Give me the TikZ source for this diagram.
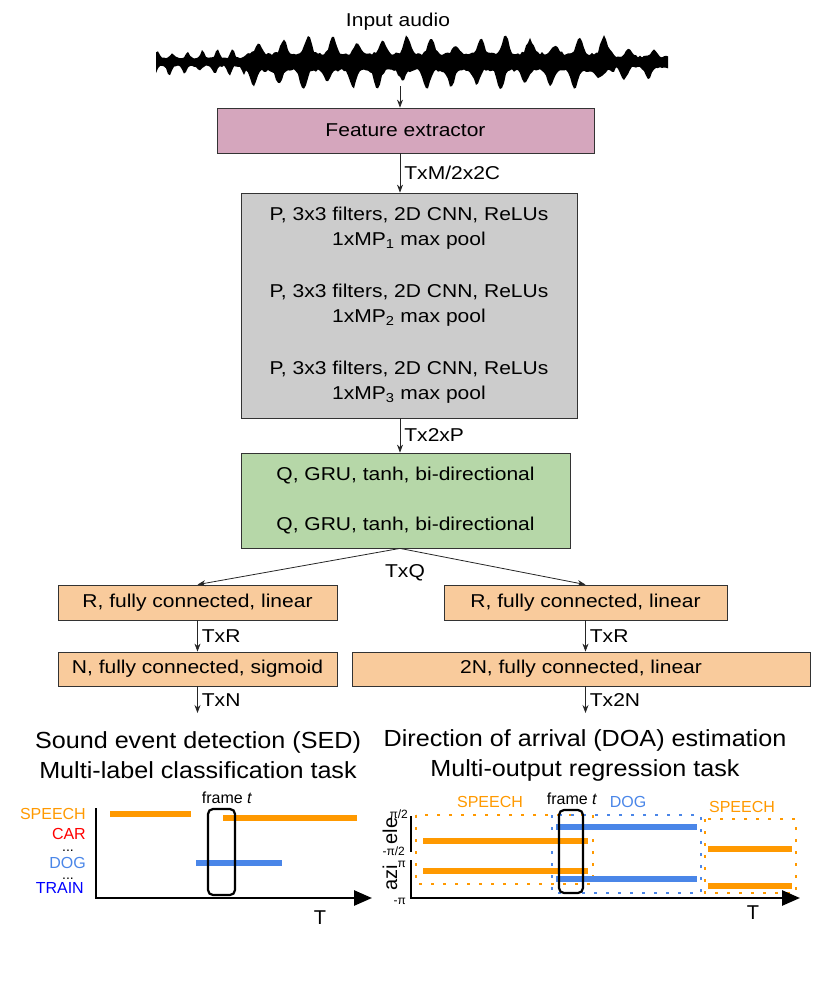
\documentclass[tikz,border=0pt]{standalone}
\usepackage{fontspec}
\setmainfont[FakeStretch=1.13]{Liberation Sans}
\newfontfamily\titlefont[FakeStretch=1.08]{Liberation Sans}
\newfontfamily\plotfont{Liberation Sans}
\usetikzlibrary{arrows.meta, positioning, calc}
\definecolor{FeatPink}{HTML}{D5A6BD}
\definecolor{CnnGray}{HTML}{CCCCCC}
\definecolor{GruGreen}{HTML}{B6D7A8}
\definecolor{FcPeach}{HTML}{F9CB9C}
\definecolor{EvOrange}{HTML}{FF9900}
\definecolor{EvBlue}{HTML}{4A86E8}
\definecolor{EvRed}{HTML}{FF0000}
\definecolor{EvDeepBlue}{HTML}{0000FF}
\tikzset{
  % Box styles
  layerbox/.style={rectangle, draw=black!80, line width=0.8pt, inner sep=0pt, align=center, font=\fontsize{18.6}{25}\selectfont},
  featbox/.style={layerbox, fill=FeatPink},
  cnnbox/.style={layerbox, fill=CnnGray},
  grubox/.style={layerbox, fill=GruGreen},
  fcbox/.style={layerbox, fill=FcPeach},
  % Arrow styles
  arrow/.style={->, >={Stealth[length=8pt,width=6pt]}, line width=0.8pt, black!85},
  axisarrow/.style={-{Triangle[length=18pt,width=15pt]}, line width=2.6pt, line join=miter},
  % Text styles
  arrowlabel/.style={right, inner sep=4pt, font=\fontsize{18.6}{22}\selectfont, black},
  titletext/.style={align=center, inner sep=0pt, font=\titlefont\fontsize{23.3}{30}\selectfont},
  plottext/.style={inner sep=0pt, font=\plotfont\fontsize{16}{18}\selectfont},
  ticktext/.style={inner sep=0pt, anchor=east, font=\plotfont\fontsize{12}{14}\selectfont},
  axistext/.style={inner sep=0pt, font=\plotfont\fontsize{20}{22}\selectfont},
  % Plot styles
  eventbar/.style={line width=6pt},
  framebox/.style={line width=2.2pt, rounded corners=5pt},
  dotbox/.style={line width=2.8pt, dash pattern=on 2.8pt off 9.2pt},
  declare function={
    wenv(\x)=(\x<245)*0.5+(\x>=245)*(\x<615)*1+(\x>=615)*0.65;
    wfreq(\x)=(\x<245)*12+(\x>=245)*7.3;
    wtop(\x)=wenv(\x)*(7+18*abs(sin(wfreq(\x)*\x))^6*(0.4+0.6*abs(sin(1.9*\x+30)))+3*rnd);
    wbot(\x)=wenv(\x)*(7+20*abs(sin(wfreq(\x)*\x+35))^6*(0.4+0.6*abs(sin(2.7*\x)))+3*rnd);
  }
}
\begin{document}
\begin{tikzpicture}[x=1pt, y=-1pt]
  \useasboundingbox (0,0) rectangle (830,988);
  \pgfmathsetseed{11}

  % Input audio
  \node[font=\fontsize{18.6}{23}\selectfont] (inlabel) at (398,22) {Input audio};
  \fill[black] plot[domain=156:668, samples=257] (\x, {62-wtop(\x)})
    -- plot[domain=668:156, samples=257] (\x, {62+wbot(\x)}) -- cycle;
  \coordinate (wave) at (400,86);

  % Network
  \node[featbox, minimum width=377, minimum height=45] (fe) at (405.5,130.5) {Feature extractor};
  \node[cnnbox, minimum width=336, minimum height=225] (cnn) at (409,305.5) {
    P, 3x3 filters, 2D CNN, ReLUs\\1xMP\textsubscript{1} max pool\\[27pt]
    P, 3x3 filters, 2D CNN, ReLUs\\1xMP\textsubscript{2} max pool\\[27pt]
    P, 3x3 filters, 2D CNN, ReLUs\\1xMP\textsubscript{3} max pool
  };
  \node[grubox, minimum width=329, minimum height=95] (gru) at (405.5,500.5) {
    Q, GRU, tanh, bi-directional\\[25pt]
    Q, GRU, tanh, bi-directional
  };
  \node[fcbox, minimum width=279, minimum height=35] (sedfc1) at (197.5,602.5) {R, fully connected, linear};
  \node[fcbox, minimum width=283, minimum height=35] (doafc1) at (585.5,602.5) {R, fully connected, linear};
  \node[fcbox, minimum width=279, minimum height=34] (sedfc2) at (197.5,669) {N, fully connected, sigmoid};
  \node[fcbox, minimum width=458, minimum height=34] (doafc2) at (581,669) {2N, fully connected, linear};

  \draw[arrow] (wave) -- (fe.north -| wave);
  \draw[arrow] (fe.south -| wave) -- node[arrowlabel] (lblfe) {TxM/2x2C} (cnn.north -| wave);
  \draw[arrow] (cnn.south -| wave) -- node[arrowlabel] (lblcnn) {Tx2xP} (gru.north -| wave);
  \coordinate (split) at (gru.south -| wave);
  \draw[arrow] (split) -- (sedfc1.north);
  \draw[arrow] (split) -- (doafc1.north);
  \node[arrowlabel, anchor=center] (lblgru) at (405,573) {TxQ};
  \draw[arrow] (sedfc1.south) -- node[arrowlabel] (lblsed1) {TxR} (sedfc2.north);
  \draw[arrow] (doafc1.south) -- node[arrowlabel] (lbldoa1) {TxR} (doafc1.south |- doafc2.north);
  \coordinate (sedout) at (197.5,713);
  \coordinate (doaout) at (585.5,713);
  \draw[arrow] (sedfc2.south) -- node[arrowlabel] (lblsed2) {TxN} (sedout);
  \draw[arrow] (doafc2.south -| doaout) -- node[arrowlabel] (lbldoa2) {Tx2N} (doaout);

  % Task titles
  \node[titletext] (sedtitle) at (198,755) {Sound event detection (SED)\\Multi-label classification task};
  \node[titletext] (doatitle) at (585,755) {Direction of arrival (DOA) estimation\\Multi-output regression task};

  % SED plot
  \draw[axisarrow] (96,808) -- (96,898) -- (372,898);
  \node[plottext, anchor=east, text=EvOrange] (sspeech) at (86,814) {SPEECH};
  \node[plottext, anchor=east, text=EvRed] (scar) at (86,834) {CAR};
  \node[plottext, font=\plotfont\fontsize{14}{14}\selectfont] (sdots1) at (68,851) {...};
  \node[plottext, anchor=east, text=EvBlue] (sdog) at (86,863) {DOG};
  \node[plottext, font=\plotfont\fontsize{14}{14}\selectfont] (sdots2) at (68,879) {...};
  \node[plottext, anchor=east, text=EvDeepBlue] (strain) at (84,888) {TRAIN};
  \draw[eventbar, EvOrange] (110,814) -- (191,814);
  \draw[eventbar, EvOrange] (223,818) -- (357,818);
  \draw[eventbar, EvBlue] (196,863) -- (282,863);
  \draw[framebox] (208,809) rectangle (235,895);
  \node[plottext] (sframe) at (227,798) {frame \textit{t}};
  \node[axistext] (saxis) at (320,918) {T};

  % DOA plot
  \draw[dotbox, EvOrange] (416,815) rectangle (593,884);
  \draw[dotbox, EvBlue] (552,815) rectangle (701,893);
  \draw[dotbox, EvOrange] (705,819) rectangle (796,893);
  \draw[eventbar, EvOrange] (423,841) -- (588,841);
  \draw[eventbar, EvOrange] (423,871) -- (588,871);
  \draw[eventbar, EvBlue] (556,827) -- (697,827);
  \draw[eventbar, EvBlue] (556,879) -- (697,879);
  \draw[eventbar, EvOrange] (708,849) -- (792,849);
  \draw[eventbar, EvOrange] (708,886) -- (792,886);
  \draw[framebox] (559,810) rectangle (583,893);
  \draw[line width=2.6pt] (411,816) -- (411,852);
  \draw[axisarrow] (411,860) -- (411,898) -- (800,898);
  \node[ticktext] (tele1) at (408,814) {π/2};
  \node[ticktext] (tele2) at (405,851) {-π/2};
  \node[ticktext] (tazi1) at (406,864) {π};
  \node[ticktext] (tazi2) at (406,901) {-π};
  \node[axistext, rotate=90] (dele) at (390,831) {ele};
  \node[axistext, rotate=90] (dazi) at (390,878) {azi};
  \node[plottext, text=EvOrange] (dspeech1) at (490,802) {SPEECH};
  \node[plottext] (dframe) at (572,799) {frame \textit{t}};
  \node[plottext, text=EvBlue] (ddog) at (628,802) {DOG};
  \node[plottext, text=EvOrange] (dspeech2) at (742,807) {SPEECH};
  \node[axistext] (daxis) at (753,913) {T};
\end{tikzpicture}
\end{document}
